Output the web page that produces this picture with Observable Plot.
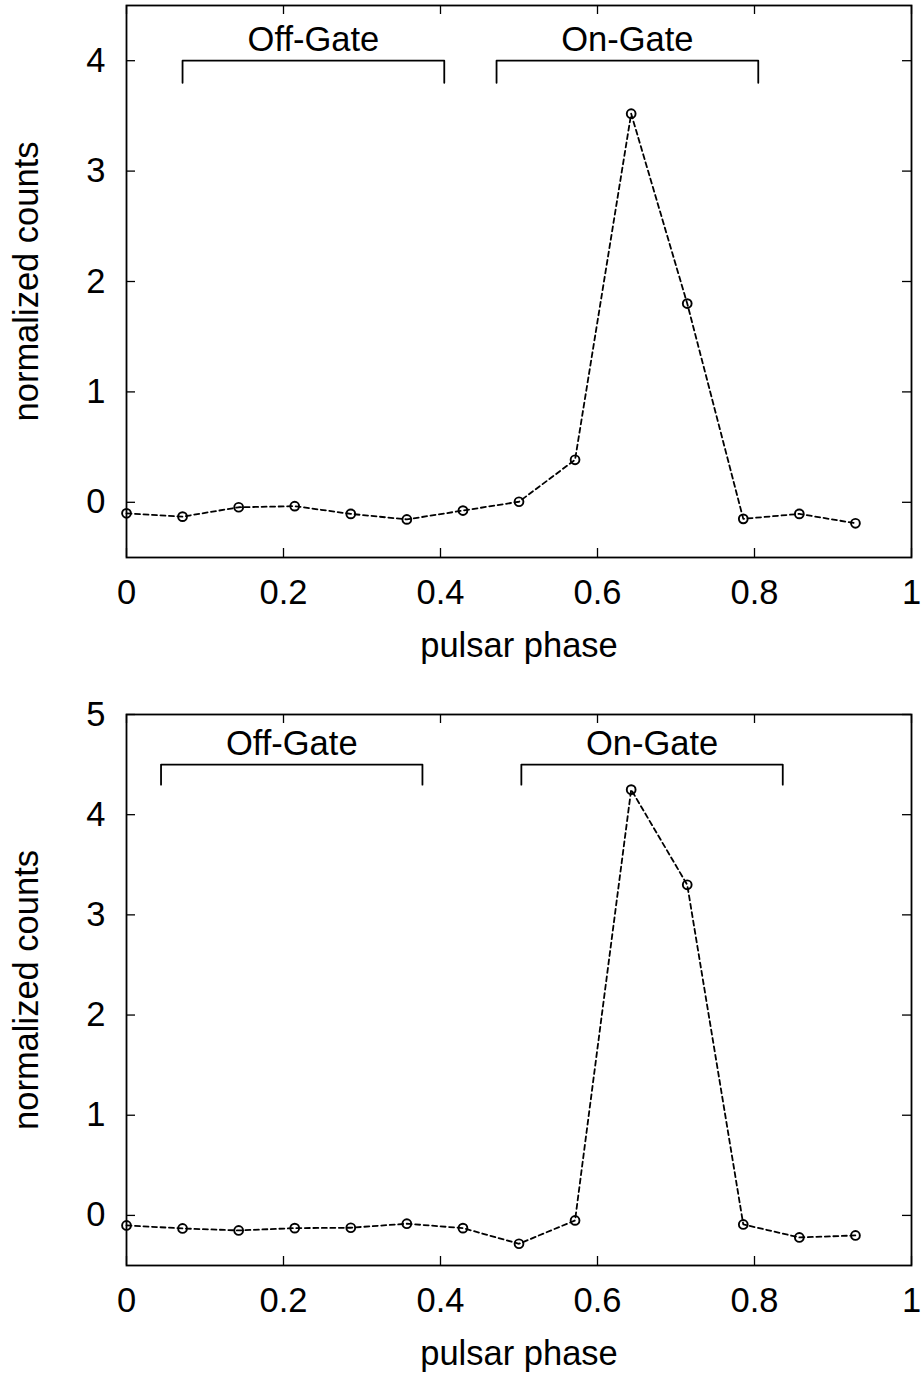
<!DOCTYPE html>
<html><head><meta charset="utf-8">
<script src="https://cdn.jsdelivr.net/npm/d3@7"></script>
<script src="https://cdn.jsdelivr.net/npm/@observablehq/plot@0.6"></script>
<style>body{margin:0;background:#fff;} svg{display:block;}</style>
</head><body><div id="chart"></div>
<script>
const phase = [0, 0.0714, 0.1429, 0.2143, 0.2857, 0.3571, 0.4286, 0.5, 0.5714, 0.6429, 0.7143, 0.7857, 0.8571, 0.9286];
const countsTop = [-0.10, -0.13, -0.045, -0.035, -0.105, -0.155, -0.075, 0.005, 0.385, 3.52, 1.80, -0.15, -0.105, -0.19];
const countsBottom = [-0.10, -0.13, -0.15, -0.127, -0.123, -0.083, -0.127, -0.283, -0.05, 4.25, 3.30, -0.09, -0.22, -0.20];
const gateNames = ["Off-Gate", "On-Gate"];
const gateStartTop = [0.0714, 0.4714];
const gateEndTop = [0.4048, 0.8048];
const gateStartBottom = [0.044, 0.503];
const gateEndBottom = [0.377, 0.836];
const bracketLevelTop = [4.0, 3.8];
const bracketLevelBottom = [4.5, 4.3];
const xTicks = [0, 0.2, 0.4, 0.6, 0.8, 1];
const yTicksTop = [0, 1, 2, 3, 4];
const yTicksBottom = [0, 1, 2, 3, 4, 5];
const yDomainTop = [-0.5, 4.5];
const yDomainBottom = [-0.5, 5];
const xLabel = "pulsar phase";
const yLabel = "normalized counts";

const FONT = "'Liberation Sans', Arial, Helvetica, sans-serif";
const FS = 34.5;

function panel({values, gateStart, gateEnd, bracket, yTicks, yDomain, marginTop, marginBottom}) {
  const [hi, lo] = bracket;
  const bracketData = gateNames.flatMap((g, i) => [
    {g, x: gateStart[i], y: lo}, {g, x: gateStart[i], y: hi},
    {g, x: gateEnd[i], y: hi}, {g, x: gateEnd[i], y: lo}
  ]);
  const pts = phase.map((p, i) => ({x: p, y: values[i]}));
  const [x0, x1] = [xTicks[0], xTicks[xTicks.length - 1]];
  const [y0, y1] = yDomain;
  return Plot.plot({
    width: 924, height: 689,
    marginLeft: 126, marginRight: 13, marginTop, marginBottom,
    x: {domain: [x0, x1]},
    y: {domain: yDomain},
    style: {fontFamily: FONT, fontSize: FS + "px", color: "black", background: "white", overflow: "visible"},
    marks: [
      Plot.ruleX(xTicks, {x: d => d, y1: y0, y2: y0, insetTop: -9, stroke: "black", strokeWidth: 1.3}),
      Plot.ruleX(xTicks, {x: d => d, y1: y1, y2: y1, insetBottom: -9, stroke: "black", strokeWidth: 1.3}),
      Plot.ruleY(yTicks, {y: d => d, x1: x0, x2: x0, insetRight: -9, stroke: "black", strokeWidth: 1.3}),
      Plot.ruleY(yTicks, {y: d => d, x1: x1, x2: x1, insetLeft: -9, stroke: "black", strokeWidth: 1.3}),
      Plot.axisX(xTicks, {anchor: "bottom", tickSize: 0, tickPadding: 22, tickFormat: d => String(d), label: null, fontSize: FS}),
      Plot.axisY(yTicks, {anchor: "left", tickSize: 0, tickPadding: 21, tickFormat: d => String(d), label: null, fontSize: FS}),
      Plot.text([xLabel], {frameAnchor: "bottom", dy: 99, lineAnchor: "bottom", textAnchor: "middle", fontSize: FS}),
      Plot.text([yLabel], {frameAnchor: "left", dx: -89, rotate: -90, lineAnchor: "bottom", textAnchor: "middle", fontSize: FS}),
      Plot.line(bracketData, {x: "x", y: "y", z: "g", stroke: "black", strokeWidth: 1.8}),
      Plot.text(gateNames, {x: (d, i) => (gateStart[i] + gateEnd[i]) / 2, y: hi, text: d => d, dy: -10, lineAnchor: "bottom", fontSize: FS}),
      Plot.line(pts, {x: "x", y: "y", stroke: "black", strokeWidth: 1.8, strokeDasharray: "5,3.5"}),
      Plot.dot(pts, {x: "x", y: "y", r: 4.4, stroke: "black", strokeWidth: 1.9, fill: "none"}),
      Plot.frame({stroke: "black", strokeWidth: 1.8})
    ]
  });
}

const root = document.getElementById("chart");
root.append(panel({values: countsTop, gateStart: gateStartTop, gateEnd: gateEndTop, bracket: bracketLevelTop,
  yTicks: yTicksTop, yDomain: yDomainTop, marginTop: 5, marginBottom: 132}));
root.append(panel({values: countsBottom, gateStart: gateStartBottom, gateEnd: gateEndBottom, bracket: bracketLevelBottom,
  yTicks: yTicksBottom, yDomain: yDomainBottom, marginTop: 25, marginBottom: 113}));
</script>
</body></html>
